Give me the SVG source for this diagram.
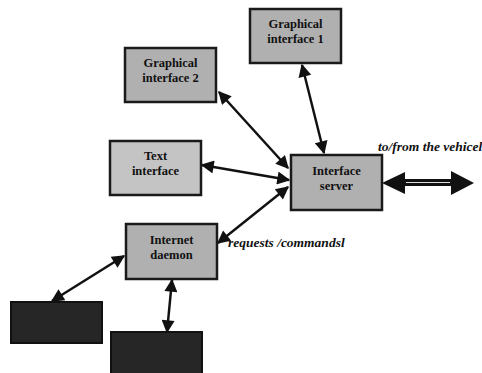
<svg xmlns="http://www.w3.org/2000/svg" width="482" height="373" viewBox="0 0 482 373">
<style>
.box{fill:#b0b0b0;stroke:#1a1a1a;stroke-width:2.5}
.light{fill:#c4c4c4}
.dark{fill:#262626;stroke:#111;stroke-width:2}
.t{font-family:"Liberation Serif",serif;font-weight:bold;font-size:12.5px;fill:#111;text-anchor:middle}
.lbl{font-family:"Liberation Serif",serif;font-weight:bold;font-style:italic;font-size:13.5px;fill:#111}
.c{stroke:#111;stroke-width:2.5;fill:none;marker-start:url(#a);marker-end:url(#a)}
</style>
<defs>
<marker id="a" viewBox="0 0 10 10" refX="9" refY="5" markerWidth="6" markerHeight="5.2" orient="auto-start-reverse" markerUnits="strokeWidth">
<path d="M0,0 L10,5 L0,10 z" fill="#111"/>
</marker>
</defs>
<rect width="482" height="373" fill="#fff"/>
<g id="connectors">
<line class="c" x1="219" y1="92" x2="288" y2="168"/>
<line class="c" x1="302" y1="65" x2="324" y2="153"/>
<line class="c" x1="202" y1="165" x2="289" y2="180"/>
<line class="c" x1="288" y1="187" x2="218" y2="243"/>
<line class="c" x1="124" y1="256" x2="52" y2="301"/>
<line class="c" x1="172" y1="280" x2="167" y2="332"/>
<g id="vehicle-link">
<rect x="402" y="179" width="52" height="7" fill="#111"/>
<line x1="406" y1="182.5" x2="450" y2="182.5" stroke="#ddd" stroke-width="1.2"/>
<polygon points="382,183 405,172 405,194" fill="#111"/>
<polygon points="474,183 451,171 451,195" fill="#111"/>
</g>
<text class="lbl" x="378" y="151">to/from the vehicel</text>
<text class="lbl" x="228" y="247">requests /commandsl</text>
</g>
<g id="gi1">
<rect class="box" x="250" y="9" width="91" height="54"/>
<text class="t" x="295.5" y="28">Graphical</text>
<text class="t" x="295.5" y="43">interface 1</text>
</g>
<g id="gi2">
<rect class="box" x="125" y="48" width="91" height="54"/>
<text class="t" x="170.5" y="67">Graphical</text>
<text class="t" x="170.5" y="82">interface 2</text>
</g>
<g id="text">
<rect class="box light" x="110" y="141" width="91" height="54"/>
<text class="t" x="155.5" y="160">Text</text>
<text class="t" x="155.5" y="175">interface</text>
</g>
<g id="server">
<rect class="box" x="291" y="155" width="91" height="55"/>
<text class="t" x="336.5" y="175">Interface</text>
<text class="t" x="336.5" y="190">server</text>
</g>
<g id="daemon">
<rect class="box" x="126" y="224" width="91" height="55"/>
<text class="t" x="171.5" y="244">Internet</text>
<text class="t" x="171.5" y="259">daemon</text>
</g>
<g id="client1">
<rect class="dark" x="11" y="302" width="91" height="41"/>
</g>
<g id="client2">
<rect class="dark" x="111" y="332" width="91" height="42"/>
</g>
</svg>
